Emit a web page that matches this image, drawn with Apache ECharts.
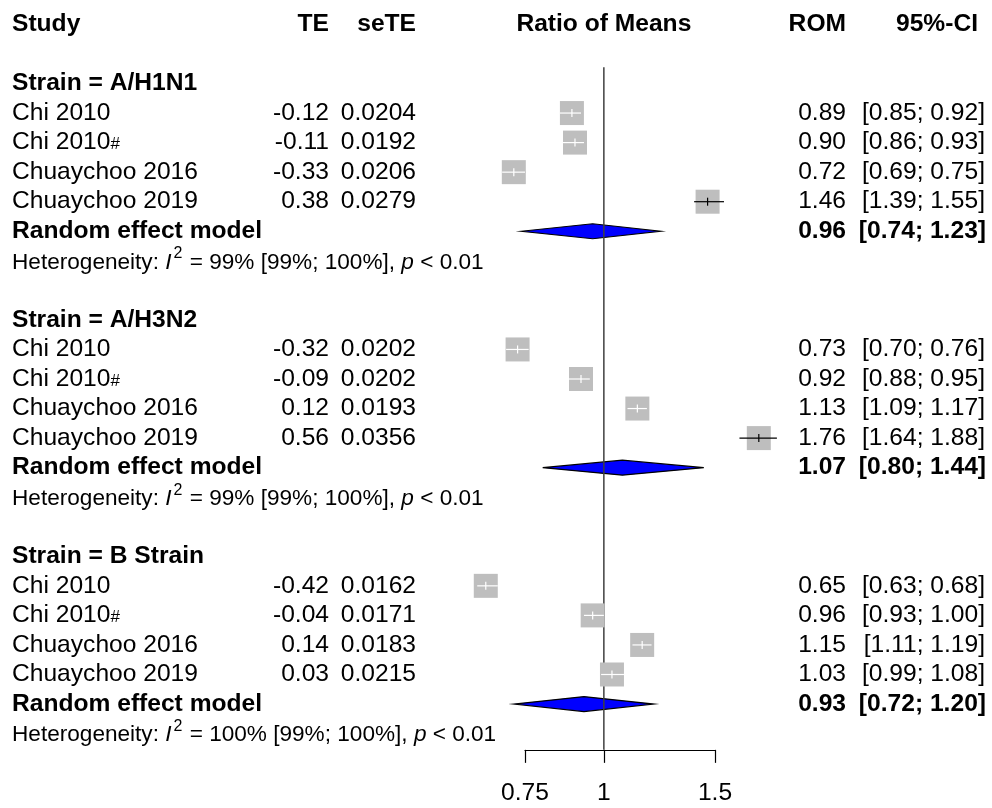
<!DOCTYPE html>
<html><head><meta charset="utf-8">
<script src="https://cdn.jsdelivr.net/npm/echarts@6/dist/echarts.min.js"></script>
<style>html,body{margin:0;padding:0;background:#fff}#c{width:992px;height:808px}</style>
</head><body><div id="c"></div>
<script>
// ---------- data ----------
const groups = ['A/H1N1', 'A/H3N2', 'B Strain'];
const studies = ['Chi 2010', 'Chi 2010#', 'Chuaychoo 2016', 'Chuaychoo 2019'];
const te = [-0.12, -0.11, -0.33, 0.38, -0.32, -0.09, 0.12, 0.56, -0.42, -0.04, 0.14, 0.03];
const seTE = [0.0204, 0.0192, 0.0206, 0.0279, 0.0202, 0.0202, 0.0193, 0.0356, 0.0162, 0.0171, 0.0183, 0.0215];
const rom = [0.89, 0.90, 0.72, 1.46, 0.73, 0.92, 1.13, 1.76, 0.65, 0.96, 1.15, 1.03];
const ciLow = [0.85, 0.86, 0.69, 1.39, 0.70, 0.88, 1.09, 1.64, 0.63, 0.93, 1.11, 0.99];
const ciHigh = [0.92, 0.93, 0.75, 1.55, 0.76, 0.95, 1.17, 1.88, 0.68, 1.00, 1.19, 1.08];
const pooledRom = [0.96, 1.07, 0.93];
const pooledLow = [0.74, 0.80, 0.72];
const pooledHigh = [1.23, 1.44, 1.20];
const hetI2 = ['99%', '99%', '100%'];
const hetLow = ['99%', '99%', '99%'];
const hetHigh = ['100%', '100%', '100%'];
const hetP = ['< 0.01', '< 0.01', '< 0.01'];
const tickLabels = [0.75, 1, 1.5];
const headers = ['Study', 'TE', 'seTE', 'Ratio of Means', 'ROM', '95%-CI'];

// ---------- layout / style ----------
const FONT = '"Liberation Sans", Arial, Helvetica, sans-serif';
const FS = 24.6, FS_HET = 22.6;
const COL = { study: 12, te: 329, se: 416, rom: 846, ci: 985, ciHead: 978 };
const ROWS_PER_GROUP = 8;
const SQ = 24;
const ln = Math.log;
const f2 = v => v.toFixed(2);

const textRows = [{ row: -2, kind: 'header' }];
const studyPts = [], pooledPts = [];
groups.forEach((g, gi) => {
  const base = gi * ROWS_PER_GROUP;
  textRows.push({ row: base, kind: 'group', g: gi });
  studies.forEach((s, si) => {
    const i = gi * studies.length + si;
    textRows.push({ row: base + 1 + si, kind: 'study', i: i, name: s });
    studyPts.push([ln(rom[i]), base + 1 + si, ln(ciLow[i]), ln(ciHigh[i])]);
  });
  textRows.push({ row: base + 5, kind: 'pooled', g: gi });
  pooledPts.push([ln(pooledRom[gi]), base + 5, ln(pooledLow[gi]), ln(pooledHigh[gi])]);
  textRows.push({ row: base + 6.05, kind: 'het', g: gi });
});

function T(x, y, text, align, bold, extra) {
  return {
    type: 'text', x: x, y: y,
    style: Object.assign({
      text: text, fill: '#000', align: align, verticalAlign: 'middle',
      textAlign: align, textVerticalAlign: 'middle',
      fontFamily: FONT, fontSize: FS, fontWeight: bold ? 'bold' : 'normal'
    }, extra || {})
  };
}

function renderText(params, api) {
  const r = textRows[params.dataIndex];
  const p = api.coord([0, r.row]);
  const y = p[1];
  const ch = [];
  if (r.kind === 'header') {
    ch.push(T(COL.study, y, headers[0], 'left', true));
    ch.push(T(COL.te, y, headers[1], 'right', true));
    ch.push(T(COL.se, y, headers[2], 'right', true));
    ch.push(T(p[0], y, headers[3], 'center', true));
    ch.push(T(COL.rom, y, headers[4], 'right', true));
    ch.push(T(COL.ciHead, y, headers[5], 'right', true));
  } else if (r.kind === 'group') {
    ch.push(T(COL.study, y, 'Strain = ' + groups[r.g], 'left', true));
  } else if (r.kind === 'study') {
    const i = r.i;
    if (r.name.endsWith('#')) {
      ch.push(T(COL.study, y, '{n|' + r.name.slice(0, -1) + '}{h|#}', 'left', false, {
        rich: {
          n: { fontFamily: FONT, fontSize: FS, fill: '#000' },
          h: { fontFamily: FONT, fontSize: 17, fill: '#000', padding: [4, 0, 0, 0] }
        }
      }));
    } else {
      ch.push(T(COL.study, y, r.name, 'left', false));
    }
    ch.push(T(COL.te, y, f2(te[i]), 'right', false));
    ch.push(T(COL.se, y, seTE[i].toFixed(4), 'right', false));
    ch.push(T(COL.rom, y, f2(rom[i]), 'right', false));
    ch.push(T(COL.ci, y, '[' + f2(ciLow[i]) + '; ' + f2(ciHigh[i]) + ']', 'right', false));
  } else if (r.kind === 'pooled') {
    const g = r.g;
    ch.push(T(COL.study, y, 'Random effect model', 'left', true));
    ch.push(T(COL.rom, y, f2(pooledRom[g]), 'right', true));
    ch.push(T(COL.ci + 1, y, '[' + f2(pooledLow[g]) + '; ' + f2(pooledHigh[g]) + ']', 'right', true));
  } else if (r.kind === 'het') {
    const g = r.g;
    const txt = '{n|Heterogeneity: }{i|I}{s|2}{n| = ' + hetI2[g] + ' [' + hetLow[g] + '; ' + hetHigh[g] + '], }{i|p}{n| ' + hetP[g] + '}';
    ch.push(T(COL.study, y, txt, 'left', false, {
      fontSize: FS_HET,
      rich: {
        n: { fontFamily: FONT, fontSize: FS_HET, fill: '#000' },
        i: { fontFamily: FONT, fontSize: FS_HET, fontStyle: 'italic', fill: '#000' },
        s: { fontFamily: FONT, fontSize: 16, fill: '#000', padding: [0, 1, 17, 2] }
      }
    }));
  }
  return { type: 'group', children: ch };
}

function renderSquare(params, api) {
  const c = api.coord([api.value(0), api.value(1)]);
  const lo = api.coord([api.value(2), api.value(1)]);
  const hi = api.coord([api.value(3), api.value(1)]);
  const tol = 3;
  const inside = (lo[0] >= c[0] - SQ / 2 - tol) && (hi[0] <= c[0] + SQ / 2 + tol);
  const lc = inside ? '#ffffff' : '#000000';
  const x1 = inside ? Math.max(lo[0], c[0] - SQ / 2) : lo[0];
  const x2 = inside ? Math.min(hi[0], c[0] + SQ / 2) : hi[0];
  return {
    type: 'group', children: [
      { type: 'rect', shape: { x: c[0] - SQ / 2, y: c[1] - SQ / 2, width: SQ, height: SQ }, style: { fill: '#BEBEBE' } },
      { type: 'line', shape: { x1: x1, y1: c[1], x2: x2, y2: c[1] }, style: { stroke: lc, lineWidth: 1.2 } },
      { type: 'line', shape: { x1: c[0], y1: c[1] - 4, x2: c[0], y2: c[1] + 4 }, style: { stroke: lc, lineWidth: 1.2 } }
    ]
  };
}

function renderDiamond(params, api) {
  const c = api.coord([api.value(0), api.value(1)]);
  const lo = api.coord([api.value(2), api.value(1)]);
  const hi = api.coord([api.value(3), api.value(1)]);
  const h = 7.5;
  return {
    type: 'polygon',
    shape: { points: [[lo[0], c[1]], [c[0], c[1] - h], [hi[0], c[1]], [c[0], c[1] + h]] },
    style: { fill: '#0000FF', stroke: '#000', lineWidth: 1.2 }
  };
}

function renderRef(params, api) {
  const a = api.coord([api.value(0), api.value(1)]);
  const b = api.coord([api.value(0), api.value(2)]);
  return { type: 'line', shape: { x1: a[0], y1: a[1], x2: b[0], y2: b[1] }, style: { stroke: '#404040', lineWidth: 1.5 } };
}

const chart = echarts.init(document.getElementById('c'), null, { renderer: 'canvas' });
const tickVals = tickLabels.map(ln);
chart.setOption({
  animation: false,
  backgroundColor: '#fff',
  grid: { left: 525, right: 277, top: 24.4, bottom: 58.15 },
  xAxis: {
    type: 'value', min: ln(tickLabels[0]), max: ln(tickLabels[tickLabels.length - 1]),
    splitLine: { show: false },
    axisLine: { show: true, onZero: false, lineStyle: { color: '#000', width: 1.2 } },
    axisTick: { show: true, inside: false, length: 13, customValues: tickVals, lineStyle: { color: '#000', width: 1.2 } },
    axisLabel: {
      show: true, customValues: tickVals, margin: 31, color: '#000', fontFamily: FONT, fontSize: FS,
      formatter: v => String(Math.round(Math.exp(v) * 100) / 100)
    }
  },
  yAxis: { type: 'value', inverse: true, min: -2, max: 22.55, show: false },
  series: [
    { type: 'custom', renderItem: renderDiamond, data: pooledPts, encode: { x: 0, y: 1 }, clip: false, z: 2 },
    { type: 'custom', renderItem: renderRef, data: [[0, -0.55, 22.55]], encode: { x: 0, y: 1 }, clip: false, z: 3 },
    { type: 'custom', renderItem: renderSquare, data: studyPts, encode: { x: 0, y: 1 }, clip: false, z: 4 },
    { type: 'custom', renderItem: renderText, data: textRows.map(r => [0, r.row]), encode: { x: 0, y: 1 }, clip: false, z: 5 }
  ]
});
</script></body></html>
